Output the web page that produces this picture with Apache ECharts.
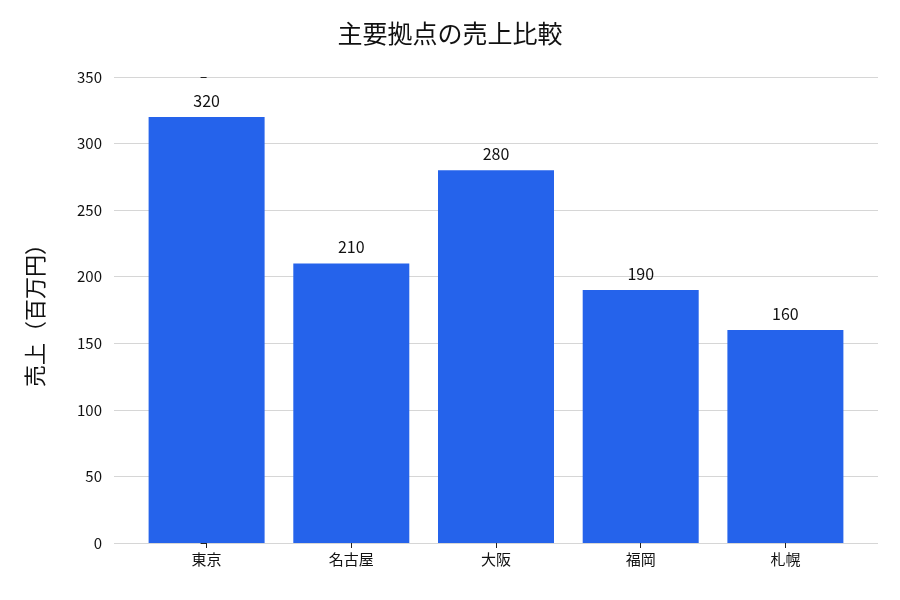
<!DOCTYPE html>
<html>
<head>
<meta charset="utf-8">
<script src="https://cdn.jsdelivr.net/npm/echarts@6/dist/echarts.min.js"></script>
</head>
<body style="margin:0">
<div id="main" style="width:900px;height:600px;"></div>
<script>
var categories = ['東京', '名古屋', '大阪', '福岡', '札幌'];
var sales = [320, 210, 280, 190, 160];
var yTicks = [0, 50, 100, 150, 200, 250, 300, 350];

var font = '"Noto Sans CJK JP", sans-serif';
var chart = echarts.init(document.getElementById('main'));
chart.setOption({
  title: {
    text: '主要拠点の売上比較', left: 'center', top: 16,
    textStyle: { fontFamily: font, fontSize: 25, fontWeight: 'normal', color: '#111' }
  },
  grid: { left: 114, right: 22, top: 77, bottom: 57 },
  xAxis: {
    type: 'value', min: -0.64, max: 4.64,
    axisLine: { show: false },
    splitLine: { show: false },
    axisTick: { show: true, customValues: [0, 1, 2, 3, 4], length: 5, lineStyle: { color: '#222' } },
    axisLabel: {
      customValues: [0, 1, 2, 3, 4], margin: 9,
      fontFamily: font, fontSize: 15, color: '#111',
      formatter: function (v) { return categories[Math.round(v)]; }
    }
  },
  yAxis: {
    type: 'value', min: 0, max: 350, interval: 50,
    name: '売上（百万円）', nameLocation: 'middle', nameGap: 68,
    nameTextStyle: { fontFamily: font, fontSize: 22, color: '#111' },
    axisLine: { show: false },
    axisTick: { show: true, length: 6, lineStyle: { color: '#222' } },
    axisLabel: { fontFamily: font, fontSize: 15, color: '#111', margin: 12 },
    splitLine: { lineStyle: { color: '#ccc', width: 0.8 } }
  },
  series: [{
    type: 'bar',
    barWidth: 116,
    data: sales.map(function (v, i) { return [i, v]; }),
    itemStyle: { color: '#2563eb' },
    label: {
      show: true, position: 'top', distance: 8,
      fontFamily: font, fontSize: 16, color: '#111',
      formatter: function (p) { return p.value[1]; }
    }
  }]
});
</script>
</body>
</html>
